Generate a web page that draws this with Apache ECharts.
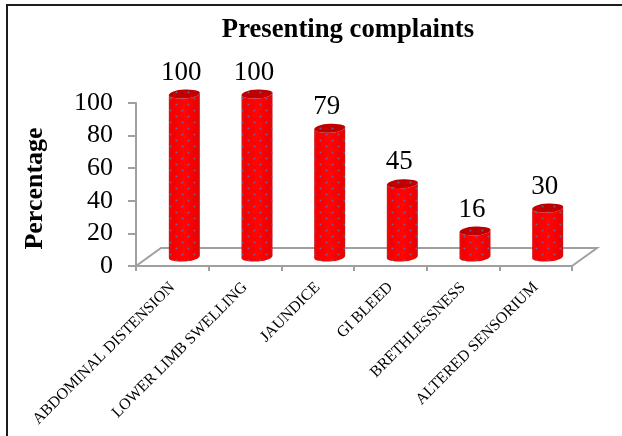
<!DOCTYPE html>
<html><head><meta charset="utf-8">
<style>html,body{margin:0;padding:0;background:#fff}#c{width:622px;height:436px}</style>
<script src="https://cdn.jsdelivr.net/npm/echarts@6/dist/echarts.min.js"></script>
</head><body><div id="c"></div>
<script>
const categories = ['ABDOMINAL DISTENSION','LOWER LIMB SWELLING','JAUNDICE','GI BLEED','BRETHLESSNESS','ALTERED SENSORIUM'];
const percentages = [100,100,79,45,16,30];
const titleText = 'Presenting complaints';
const yName = 'Percentage';

const serif = '"Liberation Serif","Times New Roman",serif';
const DX = 12, DY = -9, RX = 15.5, RY = 4.5;

function dotPattern(){
  const c = document.createElement('canvas');
  c.width = 12; c.height = 12;
  const g = c.getContext('2d');
  g.fillStyle = 'rgba(85,115,185,0.75)';
  g.beginPath(); g.arc(2.5,2.5,1.1,0,7); g.fill();
  g.beginPath(); g.arc(8.5,8.5,1.1,0,7); g.fill();
  return c;
}
const pattern = {image: dotPattern(), repeat: 'repeat'};
const sideGrad = {type:'linear',x:0,y:0,x2:1,y2:0,colorStops:[
  {offset:0,color:'#e01010'},{offset:0.12,color:'#f40000'},{offset:0.5,color:'#ff0505'},
  {offset:0.88,color:'#f00000'},{offset:1,color:'#d01010'}]};

function renderBar(params, api){
  const p0 = api.coord([api.value(0), 0]);
  const p1 = api.coord([api.value(0), api.value(1)]);
  const cx = p0[0] + DX, by = p0[1] + DY, ty = p1[1] + DY;
  const k = 0.5523, kx = RX*k, ky = RY*k, t = 1.2;
  const side = `M${cx-RX} ${ty+t}L${cx-RX} ${by+t}`+
    `C${cx-RX} ${by+t+ky} ${cx-kx} ${by+RY} ${cx} ${by+RY}`+
    `C${cx+kx} ${by+RY} ${cx+RX} ${by-t+ky} ${cx+RX} ${by-t}`+
    `L${cx+RX} ${ty-t}`+
    `C${cx+RX} ${ty-t+ky} ${cx+kx} ${ty+RY} ${cx} ${ty+RY}`+
    `C${cx-kx} ${ty+RY} ${cx-RX} ${ty+t+ky} ${cx-RX} ${ty+t}Z`;
  const top = `M${cx-RX} ${ty+t}`+
    `C${cx-RX} ${ty+t-ky} ${cx-kx} ${ty-RY} ${cx} ${ty-RY}`+
    `C${cx+kx} ${ty-RY} ${cx+RX} ${ty-t-ky} ${cx+RX} ${ty-t}`+
    `C${cx+RX} ${ty-t+ky} ${cx+kx} ${ty+RY} ${cx} ${ty+RY}`+
    `C${cx-kx} ${ty+RY} ${cx-RX} ${ty+t+ky} ${cx-RX} ${ty+t}Z`;
  const mk = (d, fill) => ({type:'path', x:0, y:0,
      shape:{pathData:d}, style:{fill, stroke:null}});
  return {type:'group', children:[
    mk(side, sideGrad), mk(side, pattern), mk(top, '#c00000'), mk(top, pattern),
    {type:'text', style:{text:String(api.value(1)), x:cx-3, y:ty-8, align:'center', verticalAlign:'bottom',
       font:'27px '+serif, fill:'#000'}}
  ]};
}
function renderFloor(params, api){
  const cs = params.coordSys;
  const L = cs.x, R = cs.x+cs.width, B = cs.y+cs.height;
  const dx = 25, dy = -18;
  return {type:'polyline', shape:{points:[[L,B],[L+dx,B+dy],[R+dx,B+dy],[R,B]]},
    style:{fill:null, stroke:'#a0a0a0', lineWidth:2}};
}
const chart = echarts.init(document.getElementById('c'), null, {renderer:'canvas'});
chart.setOption({
  animation:false,
  backgroundColor:'#fff',
  title:{text:titleText, left:343, top:12, textAlign:'center',
    textStyle:{fontFamily:serif, fontWeight:'bold', fontSize:26.7, color:'#000'}},
  graphic:[{type:'polyline', shape:{points:[[7,436],[7,5],[622,5]]}, style:{fill:null, stroke:'#1c1c1c', lineWidth:2}, silent:true}],
  grid:{left:136, right:50, top:103, bottom:170},
  xAxis:{type:'category', data:categories, boundaryGap:true,
    axisLine:{lineStyle:{color:'#a0a0a0', width:2}},
    axisTick:{show:true, alignWithLabel:false, length:5, lineStyle:{color:'#a0a0a0', width:2}},
    axisLabel:{rotate:45, interval:0, margin:19, fontFamily:serif, fontSize:15.8, color:'#000'}},
  yAxis:{type:'value', min:0, max:100, interval:20, name:yName, nameLocation:'middle', nameGap:88, nameRotate:90,
    nameTextStyle:{fontFamily:serif, fontWeight:'bold', fontSize:26, color:'#000', padding:[0,8,0,0]},
    splitLine:{show:false},
    axisLine:{show:true, lineStyle:{color:'#a0a0a0', width:2}},
    axisTick:{show:true, length:8, lineStyle:{color:'#a0a0a0', width:2}},
    axisLabel:{margin:23, verticalAlign:'middle', padding:[9,0,0,0], fontFamily:serif, fontSize:26, color:'#000'}},
  series:[
    {type:'custom', renderItem:renderFloor, data:[[0,0]], z:1, silent:true, clip:false},
    {type:'custom', renderItem:renderBar, data:categories.map((c,i)=>[i,percentages[i]]),
     encode:{x:0,y:1}, z:3, clip:false}
  ]
});
</script></body></html>
